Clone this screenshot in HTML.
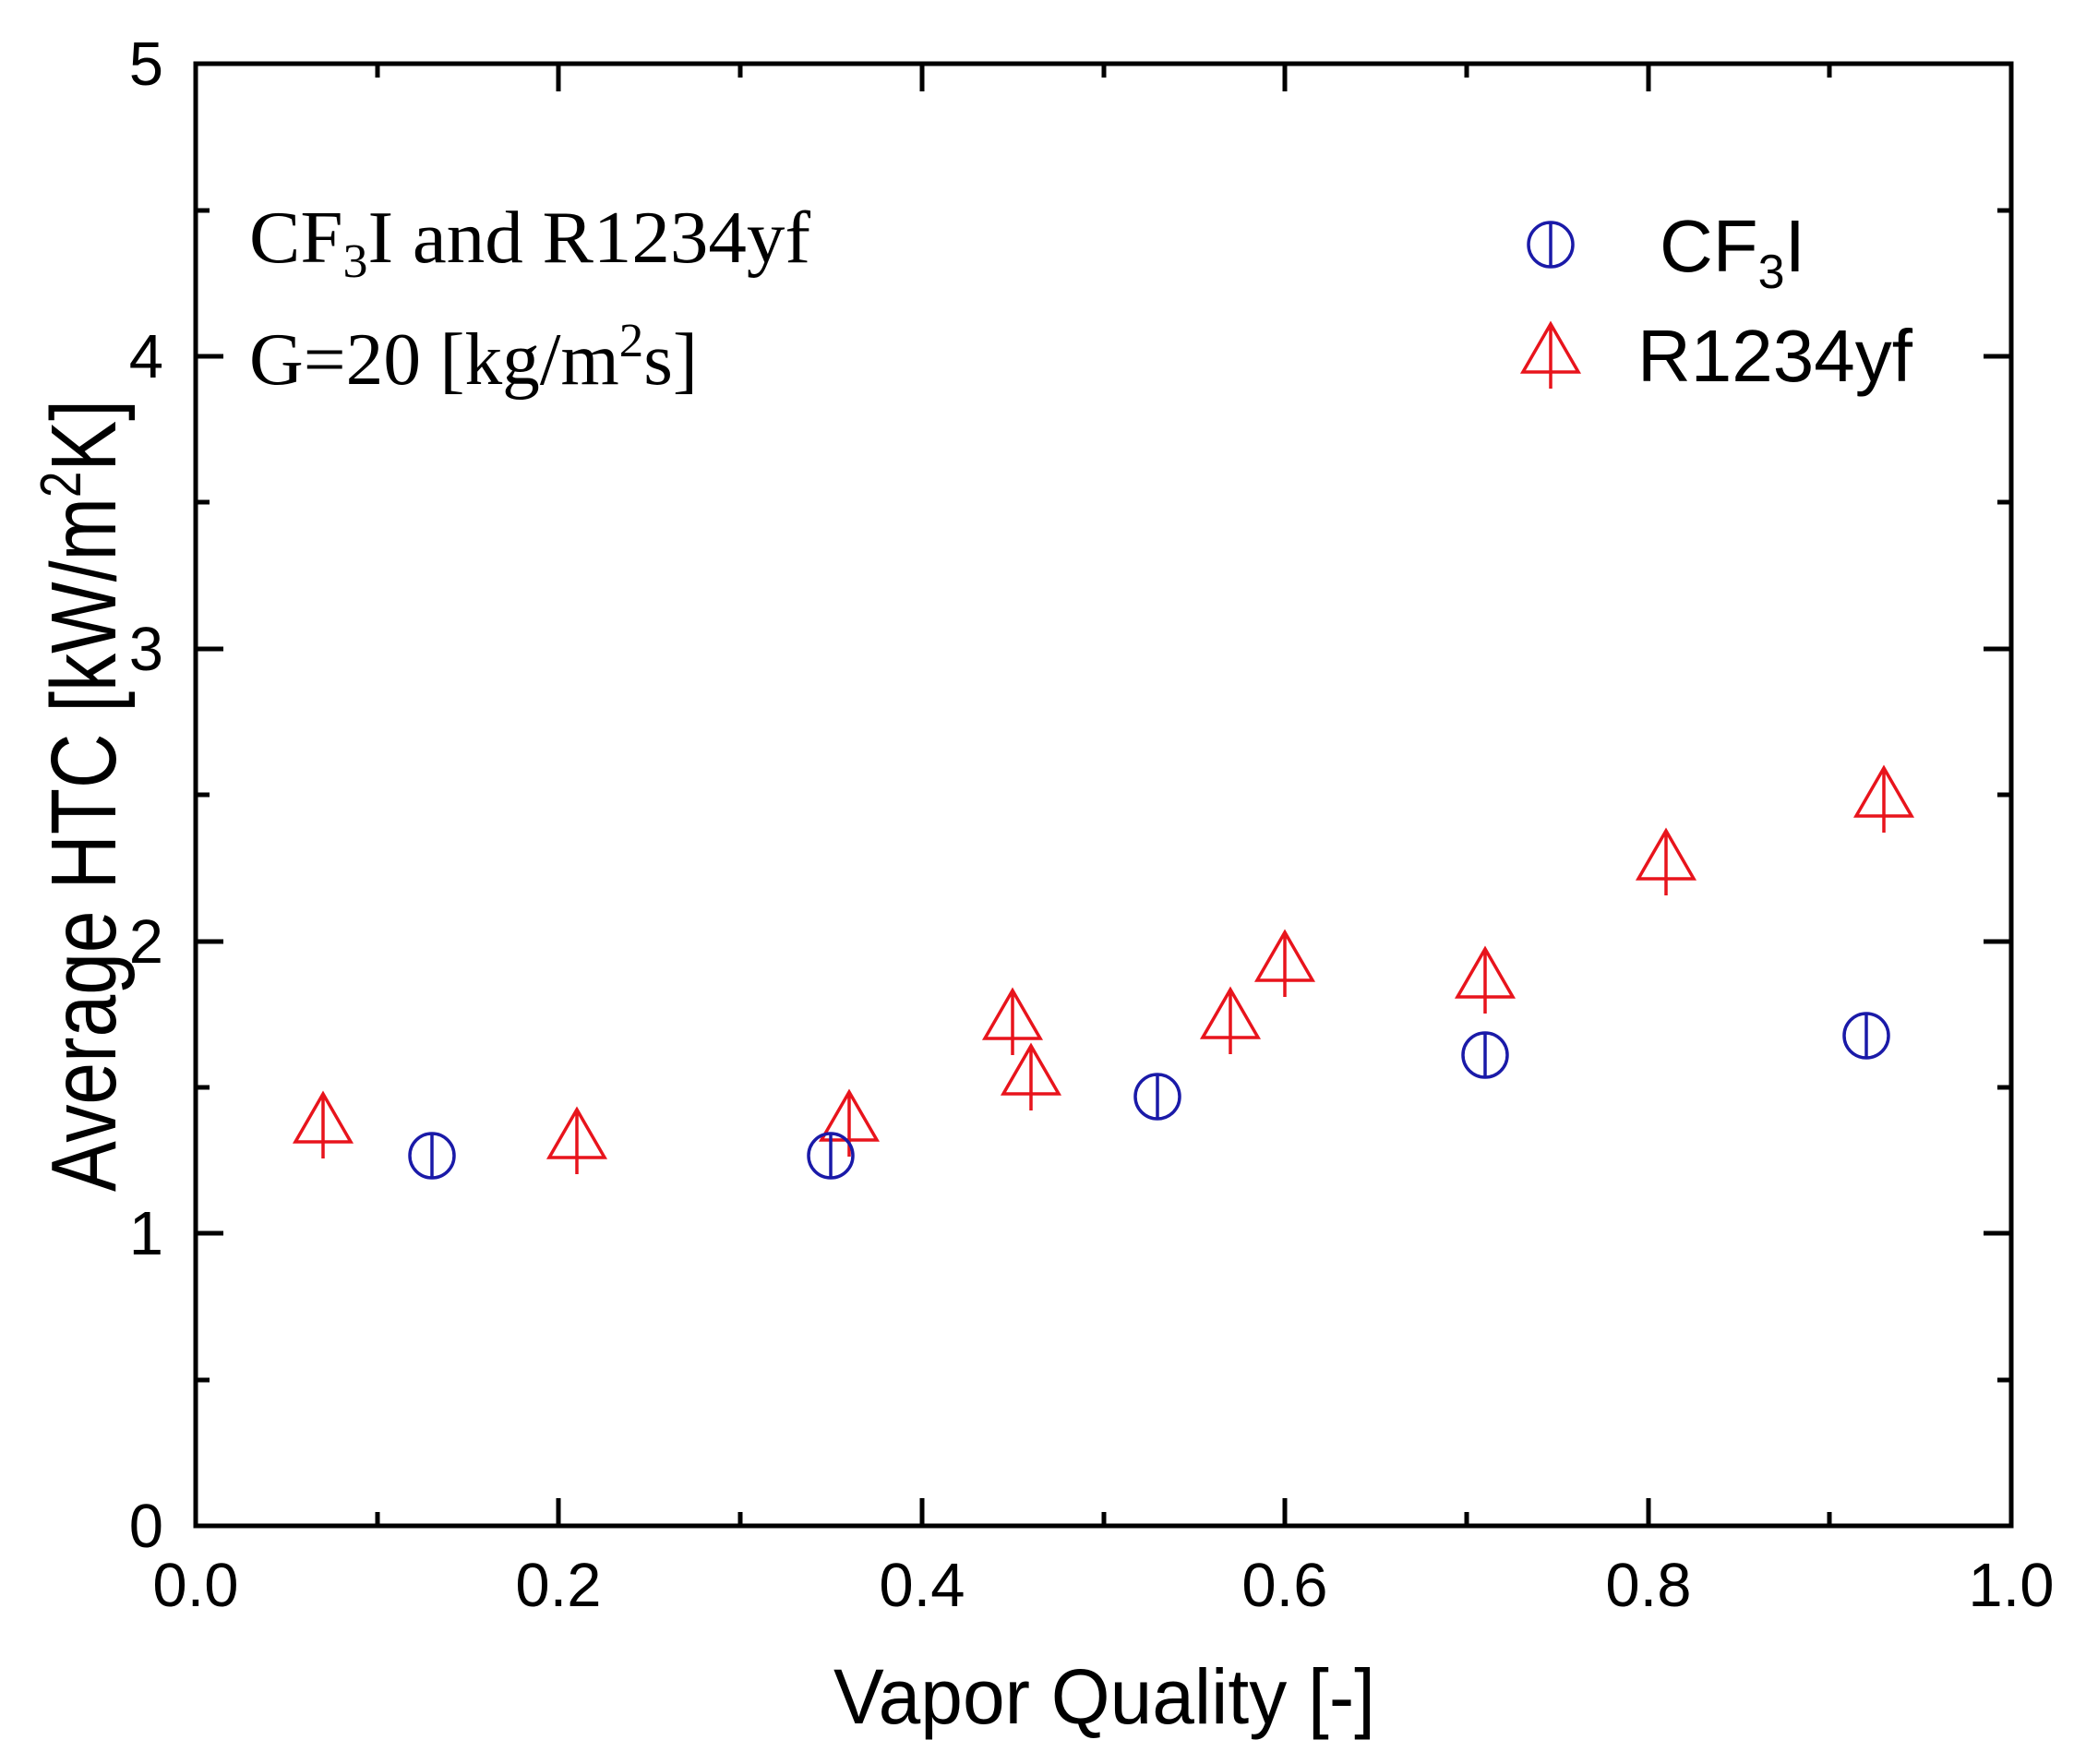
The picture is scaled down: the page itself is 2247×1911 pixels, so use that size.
<!DOCTYPE html>
<html><head><meta charset="utf-8"><style>html,body{margin:0;padding:0;background:#fff}svg{display:block}</style></head>
<body>
<svg width="2247" height="1911" viewBox="0 0 2247 1911" xmlns="http://www.w3.org/2000/svg">
<rect width="2247" height="1911" fill="#fff"/>
<g stroke="#000" stroke-width="5" fill="none">
<rect x="212" y="69" width="1967" height="1584"/>
<path d="M212 1653v-30M409 1653v-15M605 1653v-30M802 1653v-15M999 1653v-30M1196 1653v-15M1392 1653v-30M1589 1653v-15M1786 1653v-30M1982 1653v-15
M212 69v30M409 69v15M605 69v30M802 69v15M999 69v30M1196 69v15M1392 69v30M1589 69v15M1786 69v30M1982 69v15
M212 1653h30M212 1495h15M212 1336h30M212 1178h15M212 1020h30M212 861h15M212 703h30M212 544h15M212 386h30M212 228h15
M2179 1653h-30M2179 1495h-15M2179 1336h-30M2179 1178h-15M2179 1020h-30M2179 861h-15M2179 703h-30M2179 544h-15M2179 386h-30M2179 228h-15"/>
</g>
<g font-family="Liberation Sans, sans-serif" font-size="67" fill="#000">
<g text-anchor="middle">
<text x="212" y="1740">0.0</text><text x="605" y="1740">0.2</text><text x="999" y="1740">0.4</text><text x="1392" y="1740">0.6</text><text x="1786" y="1740">0.8</text><text x="2179" y="1740">1.0</text>
</g>
<g text-anchor="end">
<text x="177" y="1676">0</text><text x="177" y="1359">1</text><text x="177" y="1043">2</text><text x="177" y="726">3</text><text x="177" y="409">4</text><text x="177" y="92">5</text>
</g>
<text x="903" y="1867" font-size="84" textLength="587" lengthAdjust="spacingAndGlyphs">Vapor Quality [-]</text>
<text transform="translate(125,1291) rotate(-90)" font-size="100" textLength="858" lengthAdjust="spacingAndGlyphs">Average HTC [kW/m<tspan font-size="62" dy="-38">2</tspan><tspan dy="38">K]</tspan></text>
<text x="1798" y="294" font-size="80">CF<tspan font-size="52" dy="18">3</tspan><tspan dy="-18">I</tspan></text>
<text x="1774" y="413" font-size="80">R1234yf</text>
</g>
<g font-family="Liberation Serif, serif" font-size="80" fill="#000">
<text x="270" y="284" textLength="608" lengthAdjust="spacingAndGlyphs">CF<tspan font-size="52" dy="16">3</tspan><tspan dy="-16">I and R1234yf</tspan></text>
<text x="270" y="416" textLength="486" lengthAdjust="spacingAndGlyphs">G=20 [kg/m<tspan font-size="52" dy="-30">2</tspan><tspan dy="30">s]</tspan></text>
</g>
<defs>
<g id="tri" fill="none" stroke="#e8141c" stroke-width="3.5"><path d="M0 -33L-30 19H30Z M0 -33V37"/></g>
<g id="cir" fill="none" stroke="#1a1aa8" stroke-width="3.5"><ellipse cx="0" cy="0" rx="24" ry="24"/><path d="M0 -24V24"/></g>
</defs>
<use href="#tri" x="350" y="1218"/>
<use href="#tri" x="625" y="1235"/>
<use href="#tri" x="920" y="1216"/>
<use href="#tri" x="1097" y="1106"/>
<use href="#tri" x="1117" y="1166"/>
<use href="#tri" x="1333" y="1105"/>
<use href="#tri" x="1392" y="1043"/>
<use href="#tri" x="1609" y="1061"/>
<use href="#tri" x="1805" y="933"/>
<use href="#tri" x="2041" y="865"/>
<use href="#cir" x="468" y="1252"/>
<use href="#cir" x="900" y="1252"/>
<use href="#cir" x="1254" y="1188"/>
<use href="#cir" x="1609" y="1143"/>
<use href="#cir" x="2022" y="1122"/>
<use href="#cir" x="1680" y="265"/>
<use href="#tri" x="1680" y="384"/>
</svg>
</body></html>
